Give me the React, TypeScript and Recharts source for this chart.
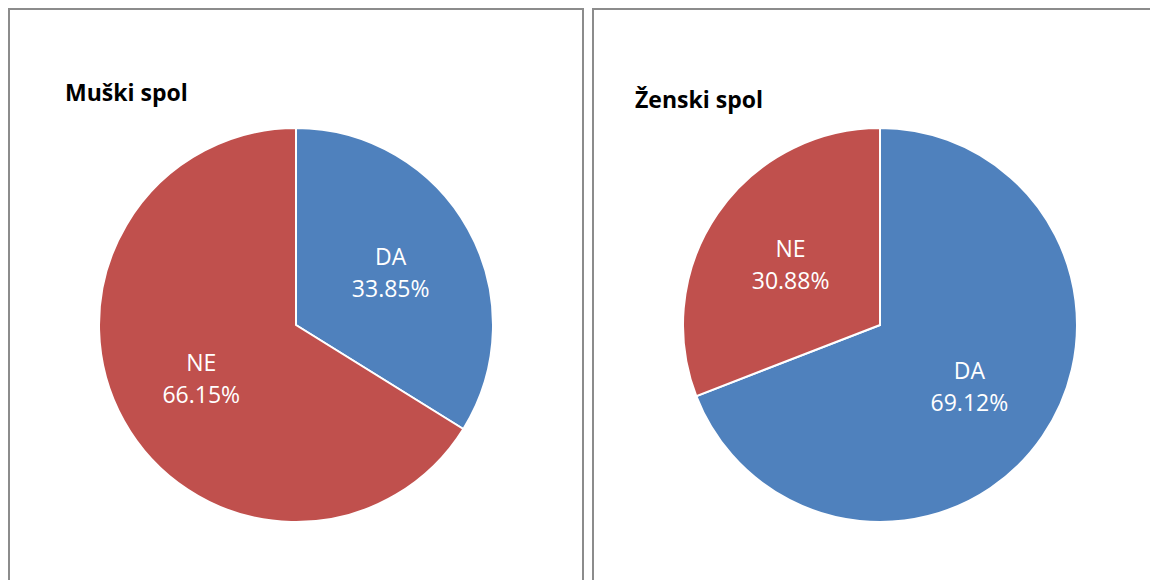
import { PieChart, Pie, Cell } from 'recharts'

const categories = ['DA', 'NE']
const maleValues = [33.85, 66.15]
const femaleValues = [69.12, 30.88]
const titles = ['Muški spol', 'Ženski spol']

const COLORS = ['#4F81BD', '#C0504D']
const RAD = Math.PI / 180
const FONT = '"Open Sans", "Noto Sans", sans-serif'

// eslint-disable-next-line @typescript-eslint/no-explicit-any
const renderLabel = (props: any) => {
  const { cx, cy, midAngle, outerRadius, name, value } = props
  const r = outerRadius * 0.55
  const x = cx + r * Math.cos(-midAngle * RAD)
  const y = cy + r * Math.sin(-midAngle * RAD)
  return (
    <text x={x} y={y} fill="#fff" textAnchor="middle" fontFamily={FONT} fontSize={23}>
      <tspan x={x} y={y - 16} dominantBaseline="central">{name}</tspan>
      <tspan x={x} y={y + 16} dominantBaseline="central">{value.toFixed(2)}%</tspan>
    </text>
  )
}

function PiePanel({ title, values, titleX, titleY, left }: { title: string; values: number[]; titleX: number; titleY: number; left: number }) {
  const data = categories.map((c, i) => ({ name: c, value: values[i] }))
  return (
    <div
      style={{
        position: 'absolute',
        left,
        top: 0,
        width: 572,
        height: 600,
        border: '2px solid #8c8c8c',
        background: '#fff',
      }}
    >
      <PieChart width={572} height={600} margin={{ top: 0, right: 0, bottom: 0, left: 0 }}>
        <text x={titleX} y={titleY} fontFamily={FONT} fontWeight={700} fontSize={23} fill="#000">
          {title}
        </text>
        <Pie
          data={data}
          dataKey="value"
          nameKey="name"
          cx={286}
          cy={315}
          outerRadius={197}
          startAngle={90}
          endAngle={-270}
          stroke="#fff"
          strokeWidth={2}
          label={renderLabel}
          labelLine={false}
          isAnimationActive={false}
        >
          {data.map((d, i) => (
            <Cell key={d.name} fill={COLORS[i]} />
          ))}
        </Pie>
      </PieChart>
    </div>
  )
}

export default function App() {
  return (
    <div style={{ position: 'relative', width: 1150, height: 572, overflow: 'hidden', background: '#fff' }}>
      <style>{`body{overflow:hidden}`}</style>
      <PiePanel title={titles[0]} values={maleValues} titleX={55} titleY={91} left={0} />
      <PiePanel title={titles[1]} values={femaleValues} titleX={41} titleY={98} left={584} />
    </div>
  )
}
